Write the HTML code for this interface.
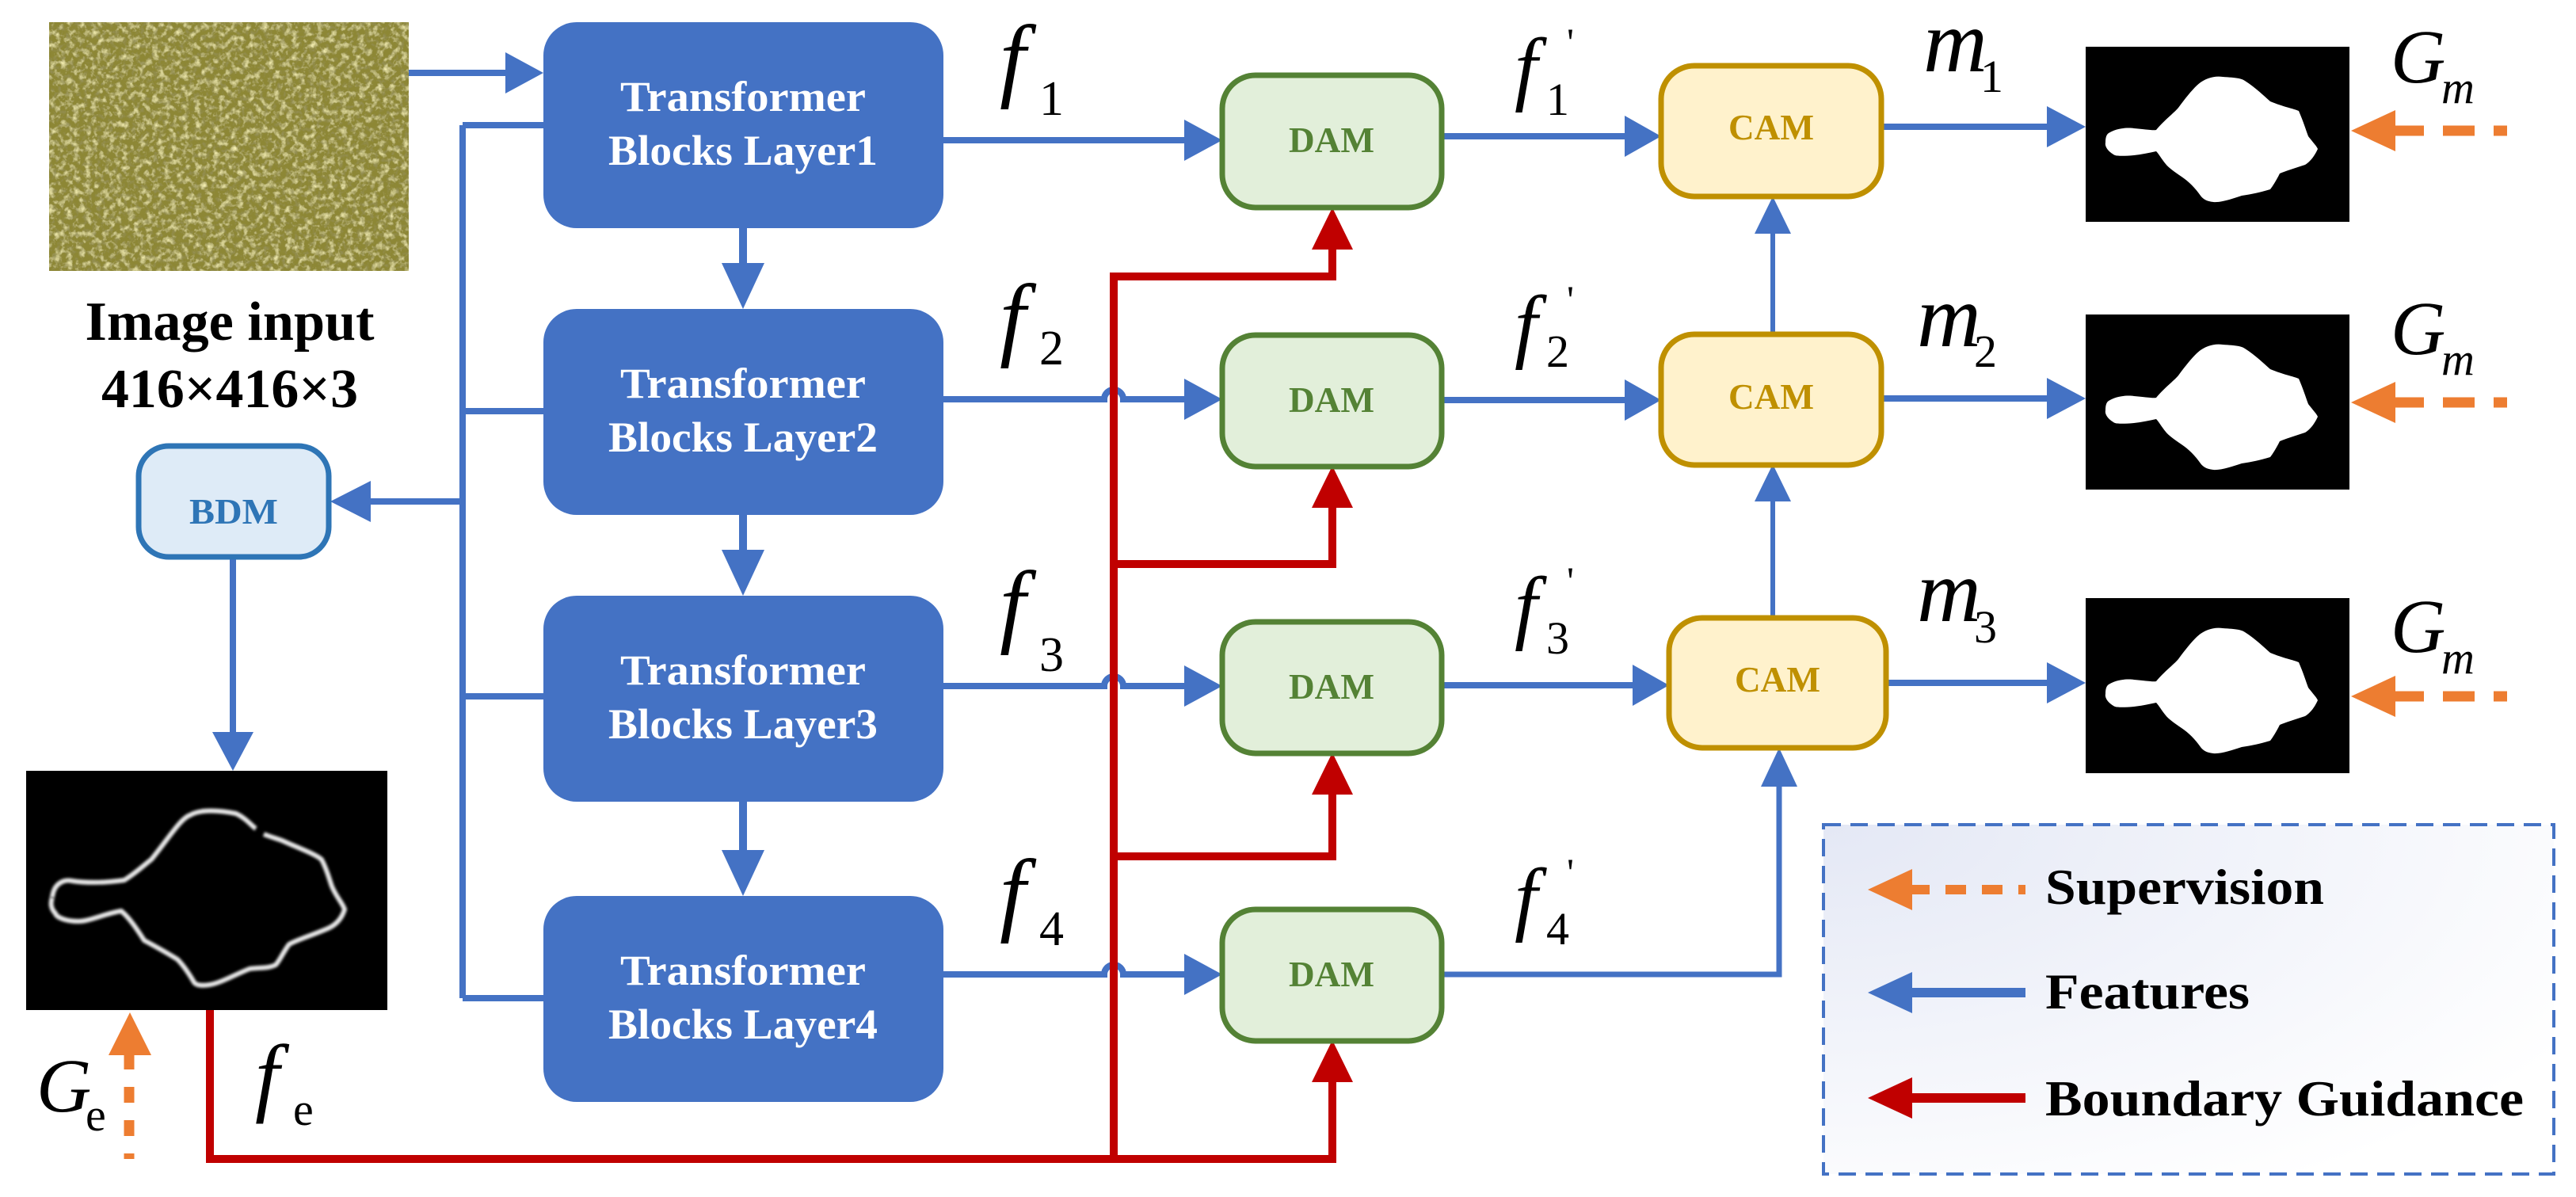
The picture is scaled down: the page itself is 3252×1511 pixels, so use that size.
<!DOCTYPE html>
<html><head><meta charset="utf-8"><style>
html,body{margin:0;padding:0;background:#fff}svg{display:block}
text{font-family:"Liberation Serif","DejaVu Serif",serif}
.b{font-weight:bold}
.i{font-style:italic}
.n{font-style:normal}
</style></head>
<body>
<svg xmlns="http://www.w3.org/2000/svg" width="3252" height="1511" viewBox="0 0 3252 1511">
<defs>
<filter id="noise" x="0" y="0" width="100%" height="100%">
<feTurbulence type="fractalNoise" baseFrequency="0.13" numOctaves="3" seed="5" result="t"/>
<feColorMatrix in="t" type="matrix" values="0 0 0 0 0.93  0 0 0 0 0.88  0 0 0 0 0.45  0 0 0 2.2 -1.05" result="c"/>
<feComposite in="c" in2="SourceGraphic" operator="over" result="o"/>
<feTurbulence type="fractalNoise" baseFrequency="0.18" numOctaves="2" seed="11" result="t2"/>
<feColorMatrix in="t2" type="matrix" values="0 0 0 0 0.3  0 0 0 0 0.28  0 0 0 0 0.1  0 0 0 2.2 -1.1" result="d"/>
<feComposite in="d" in2="o" operator="over"/>
</filter>
<filter id="blur1"><feGaussianBlur stdDeviation="1.5"/></filter>
<radialGradient id="lg" cx="0" cy="0" r="1.2">
<stop offset="0" stop-color="#e4e8f5"/><stop offset="1" stop-color="#ffffff"/></radialGradient>
</defs>

<rect x="62" y="28" width="454" height="314" fill="#8d8736" filter="url(#noise)"/>

<g class="b" text-anchor="middle">
<text x="290" y="429" font-size="70" textLength="365" lengthAdjust="spacingAndGlyphs">Image input</text>
<text x="290" y="514" font-size="70" textLength="324" lengthAdjust="spacingAndGlyphs">416×416×3</text>
</g>

<g stroke="#4472c4" fill="none" stroke-width="8">
<path d="M516 92 H645"/>
<path d="M584 158 V1260 M584 158 H690 M584 519 H690 M584 879 H690 M584 1260 H690"/>
<path d="M584 633 H460"/>
<path d="M294 705 V930"/>
<path d="M938 287 V340 M938 650 V700 M938 1011 V1080" stroke-width="10"/>
<path d="M1191 177 H1500"/>
<path d="M1191 504 H1394 A12 12 0 0 1 1418 504 H1500"/>
<path d="M1191 866 H1394 A12 12 0 0 1 1418 866 H1500"/>
<path d="M1191 1230 H1394 A12 12 0 0 1 1418 1230 H1500"/>
<path d="M1820 172 H2056 M1820 505 H2056 M1820 865 H2066"/>
<path d="M2375 160 H2590 M2375 503 H2590 M2381 862 H2590"/>
<path d="M2238 422 V290 M2238 780 V628" stroke-width="6"/>
<path d="M1820 1230 H2246 V988" stroke-width="7"/>
</g>
<g fill="#4472c4">
<polygon points="638,66 686,92 638,118"/>
<polygon points="468,607 417,633 468,659"/>
<polygon points="268,924 320,924 294,973"/>
<polygon points="911,332 965,332 938,390"/>
<polygon points="911,694 965,694 938,752"/>
<polygon points="911,1073 965,1073 938,1131"/>
<polygon points="1495,151 1543,177 1495,203"/>
<polygon points="1495,478 1543,504 1495,530"/>
<polygon points="1495,840 1543,866 1495,892"/>
<polygon points="1495,1204 1543,1230 1495,1256"/>
<polygon points="2051,146 2097,172 2051,198"/>
<polygon points="2051,479 2097,505 2051,531"/>
<polygon points="2061,839 2107,865 2061,891"/>
<polygon points="2584,134 2633,160 2584,186"/>
<polygon points="2584,477 2633,503 2584,529"/>
<polygon points="2584,836 2633,862 2584,888"/>
<polygon points="2215,295 2261,295 2238,248"/>
<polygon points="2215,633 2261,633 2238,586"/>
<polygon points="2223,993 2269,993 2246,944"/>
</g>

<g stroke="#c00000" fill="none" stroke-width="10">
<path d="M265 1275 V1463 H1682 V1360"/>
<path d="M1406 1463 V349 H1682 V310"/>
<path d="M1406 712 H1682 V636"/>
<path d="M1406 1081 H1682 V998"/>
</g>
<g fill="#c00000">
<polygon points="1656,315 1708,315 1682,262"/>
<polygon points="1656,641 1708,641 1682,588"/>
<polygon points="1656,1003 1708,1003 1682,950"/>
<polygon points="1656,1366 1708,1366 1682,1313"/>
</g>

<g fill="#4472c4">
<rect x="686" y="28" width="505" height="260" rx="42"/>
<rect x="686" y="390" width="505" height="260" rx="42"/>
<rect x="686" y="752" width="505" height="260" rx="42"/>
<rect x="686" y="1131" width="505" height="260" rx="42"/>
</g>
<g class="b" fill="#fff" text-anchor="middle" font-size="54">
<text x="938" y="140" textLength="310" lengthAdjust="spacingAndGlyphs">Transformer</text>
<text x="938" y="208" textLength="340" lengthAdjust="spacingAndGlyphs">Blocks Layer1</text>
<text x="938" y="502" textLength="310" lengthAdjust="spacingAndGlyphs">Transformer</text>
<text x="938" y="570" textLength="340" lengthAdjust="spacingAndGlyphs">Blocks Layer2</text>
<text x="938" y="864" textLength="310" lengthAdjust="spacingAndGlyphs">Transformer</text>
<text x="938" y="932" textLength="340" lengthAdjust="spacingAndGlyphs">Blocks Layer3</text>
<text x="938" y="1243" textLength="310" lengthAdjust="spacingAndGlyphs">Transformer</text>
<text x="938" y="1311" textLength="340" lengthAdjust="spacingAndGlyphs">Blocks Layer4</text>
</g>

<rect x="175" y="563" width="240" height="140" rx="38" fill="#deebf7" stroke="#2e75b6" stroke-width="7"/>
<text x="295" y="661" class="b" font-size="46" fill="#2e75b6" text-anchor="middle" textLength="112" lengthAdjust="spacingAndGlyphs">BDM</text>

<rect x="33" y="973" width="456" height="302" fill="#000"/>
<g transform="translate(33,973)">
<path d="M33 160 C35 140 50 137 58 139 C85 143 110 140 124 138 C140 128 150 118 158 112 C180 85 195 60 207 56 C220 48 245 50 265 54 C278 60 285 70 290 73" fill="none" stroke="#e8e8e8" stroke-width="6" filter="url(#blur1)"/>
<path d="M300 80 C310 84 318 86 323 88 C345 98 365 105 373 112 C380 125 383 138 386 146 C392 160 400 168 402 175 C398 188 390 195 381 199 C360 208 340 214 332 219 C325 228 320 240 315 245 C305 250 295 248 282 250 C262 258 245 268 232 270 C220 272 214 270 212 267 C205 255 198 245 191 238 C175 228 160 220 149 214 C140 200 130 185 120 177 C100 180 80 190 66 190 C50 190 38 185 37 180 C32 175 30 168 33 160" fill="none" stroke="#e8e8e8" stroke-width="6" filter="url(#blur1)"/>
</g>

<g fill="#e2efda" stroke="#548235" stroke-width="7">
<rect x="1543" y="95" width="277" height="167" rx="42"/>
<rect x="1543" y="423" width="277" height="166" rx="42"/>
<rect x="1543" y="785" width="277" height="166" rx="42"/>
<rect x="1543" y="1148" width="277" height="166" rx="42"/>
</g>
<g class="b" fill="#548235" text-anchor="middle" font-size="46">
<text x="1681" y="192" textLength="108" lengthAdjust="spacingAndGlyphs">DAM</text>
<text x="1681" y="520" textLength="108" lengthAdjust="spacingAndGlyphs">DAM</text>
<text x="1681" y="882" textLength="108" lengthAdjust="spacingAndGlyphs">DAM</text>
<text x="1681" y="1245" textLength="108" lengthAdjust="spacingAndGlyphs">DAM</text>
</g>

<g fill="#fff2cc" stroke="#bf9000" stroke-width="7">
<rect x="2097" y="83" width="278" height="165" rx="42"/>
<rect x="2097" y="422" width="278" height="165" rx="42"/>
<rect x="2107" y="780" width="274" height="164" rx="42"/>
</g>
<g class="b" fill="#bf9000" text-anchor="middle" font-size="46">
<text x="2236" y="176" textLength="108" lengthAdjust="spacingAndGlyphs">CAM</text>
<text x="2236" y="516" textLength="108" lengthAdjust="spacingAndGlyphs">CAM</text>
<text x="2244" y="873" textLength="108" lengthAdjust="spacingAndGlyphs">CAM</text>
</g>

<g id="m1" transform="translate(2633,59)">
<rect width="333" height="221" fill="#000"/>
<path d="M29 109 C40 102 55 102 61 103 C75 104 85 106 89 105 C100 92 110 85 117 77 C128 62 138 50 145 45 C155 38 165 37 173 38 C190 39 197 40 201 43 C215 52 225 62 233 69 C250 76 262 78 269 81 C275 95 278 105 281 113 C288 122 292 126 293 129 C288 140 282 146 277 149 C262 154 252 157 245 160 C240 170 236 176 233 180 C220 184 210 186 197 188 C185 192 170 197 161 196 C152 195 148 192 145 188 C138 178 130 170 121 164 C112 158 104 152 101 148 C96 142 92 135 89 132 C80 134 70 136 61 137 C50 138 40 138 37 137 C27 132 24 125 25 121 C25 115 26 111 29 109 Z" fill="#fff"/>
</g>
<use href="#m1" transform="translate(0,338)"/>
<use href="#m1" transform="translate(0,696)"/>

<g stroke="#ed7d31" stroke-width="13" fill="none" stroke-dasharray="40 24">
<path d="M3020 165 H3165"/>
<path d="M3020 508 H3165"/>
<path d="M3020 879 H3165"/>
<path d="M163 1330 V1463" stroke-dasharray="20 22"/>
</g>
<g fill="#ed7d31">
<polygon points="3024,139 2968,165 3024,191"/>
<polygon points="3024,482 2968,508 3024,534"/>
<polygon points="3024,853 2968,879 3024,905"/>
<polygon points="137,1332 191,1332 164,1278"/>
</g>

<g class="i" fill="#000">
<text x="1262" y="113" font-size="118">f</text>
<text x="1312" y="145" font-size="62" class="n">1</text>
<text x="1262" y="440" font-size="118">f</text>
<text x="1312" y="460" font-size="62" class="n">2</text>
<text x="1262" y="802" font-size="118">f</text>
<text x="1312" y="847" font-size="62" class="n">3</text>
<text x="1262" y="1166" font-size="118">f</text>
<text x="1312" y="1193" font-size="62" class="n">4</text>

<text x="1912" y="120" font-size="104">f</text>
<text x="1952" y="145" font-size="58" class="n">1</text>
<text x="1978" y="70" font-size="50" class="n">'</text>
<text x="1912" y="445" font-size="104">f</text>
<text x="1952" y="463" font-size="58" class="n">2</text>
<text x="1978" y="395" font-size="50" class="n">'</text>
<text x="1912" y="800" font-size="104">f</text>
<text x="1952" y="825" font-size="58" class="n">3</text>
<text x="1978" y="750" font-size="50" class="n">'</text>
<text x="1912" y="1168" font-size="104">f</text>
<text x="1952" y="1192" font-size="58" class="n">4</text>
<text x="1978" y="1118" font-size="50" class="n">'</text>

<text x="2428" y="90" font-size="112">m</text>
<text x="2500" y="116" font-size="58" class="n">1</text>
<text x="2420" y="437" font-size="112">m</text>
<text x="2492" y="463" font-size="58" class="n">2</text>
<text x="2420" y="784" font-size="112">m</text>
<text x="2492" y="811" font-size="58" class="n">3</text>

<text x="3018" y="104" font-size="96">G</text>
<text x="3082" y="130" font-size="58">m</text>
<text x="3018" y="447" font-size="96">G</text>
<text x="3082" y="473" font-size="58">m</text>
<text x="3018" y="823" font-size="96">G</text>
<text x="3082" y="850" font-size="58">m</text>

<text x="46" y="1403" font-size="96">G</text>
<text x="108" y="1427" font-size="58" class="n">e</text>
<text x="322" y="1395" font-size="110">f</text>
<text x="370" y="1420" font-size="58" class="n">e</text>
</g>

<rect x="2302" y="1041" width="922" height="441" fill="url(#lg)" stroke="#4472c4" stroke-width="4" stroke-dasharray="22 12"/>
<g stroke-width="12" fill="none">
<path d="M2410 1123 H2557" stroke="#ed7d31" stroke-dasharray="26 20"/>
<path d="M2410 1253 H2557" stroke="#4472c4"/>
<path d="M2410 1386 H2557" stroke="#c00000"/>
</g>
<polygon points="2414,1097 2358,1123 2414,1149" fill="#ed7d31"/>
<polygon points="2414,1227 2358,1253 2414,1279" fill="#4472c4"/>
<polygon points="2414,1360 2358,1386 2414,1412" fill="#c00000"/>
<g class="b" font-size="64" fill="#000">
<text x="2582" y="1141" textLength="352" lengthAdjust="spacingAndGlyphs">Supervision</text>
<text x="2582" y="1273" textLength="258" lengthAdjust="spacingAndGlyphs">Features</text>
<text x="2582" y="1408" textLength="604" lengthAdjust="spacingAndGlyphs">Boundary Guidance</text>
</g>
</svg>
</body></html>
